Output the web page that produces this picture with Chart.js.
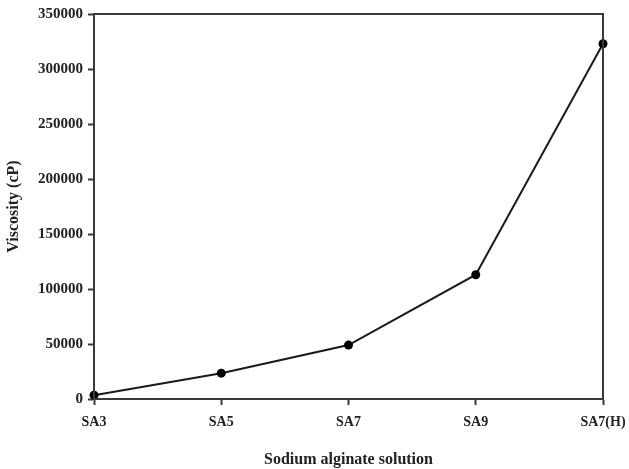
<!DOCTYPE html>
<html>
<head>
<meta charset="utf-8">
<style>
    html, body { margin: 0; padding: 0; background: #fff; }
    .chart-container { position: absolute; left: 0; top: 0; width: 629px; height: 469px; }
</style>
</head>
<body>
<div class="chart-container">
    <canvas id="myChart" width="629" height="469"></canvas>
</div>

<script src="https://cdn.jsdelivr.net/npm/chart.js"></script>
<script>
    const categories = ['SA3', 'SA5', 'SA7', 'SA9', 'SA7(H)'];
    const viscosity = [3500, 23500, 49000, 113000, 323000];
    const yTicks = [0, 50000, 100000, 150000, 200000, 250000, 300000, 350000];

    const axisColor = '#3a3a3a';
    const serif = "'Liberation Serif', 'Times New Roman', serif";

    // box around the plot area (top and right edges)
    const frame = {
        id: 'frame',
        afterDatasetsDraw(chart) {
            const {ctx, chartArea: a} = chart;
            ctx.save();
            ctx.strokeStyle = axisColor;
            ctx.lineWidth = 2;
            ctx.strokeRect(a.left, a.top, a.right - a.left, a.bottom - a.top);
            ctx.restore();
        }
    };

    const ctx = document.getElementById('myChart');

    new Chart(ctx, {
        type: 'line',
        data: {
            labels: categories,
            datasets: [{
                label: 'Viscosity',
                data: viscosity,
                borderColor: '#1a1a1a',
                backgroundColor: '#000',
                borderWidth: 2,
                pointRadius: 4.5,
                pointBackgroundColor: '#000',
                pointBorderWidth: 0,
                tension: 0,
                clip: false
            }]
        },
        options: {
            responsive: false,
            animation: false,
            layout: { padding: { left: 0, right: 26, top: 11, bottom: 0 } },
            plugins: {
                legend: { display: false },
                tooltip: { enabled: false }
            },
            scales: {
                x: {
                    offset: false,
                    grid: { drawOnChartArea: false, drawTicks: true, tickLength: 6, tickColor: axisColor, tickWidth: 2 },
                    border: { color: axisColor, width: 2 },
                    ticks: { color: '#222', padding: 9, maxRotation: 0, font: { family: serif, size: 14, weight: 'bold' } },
                    title: {
                        display: true,
                        text: 'Sodium alginate solution',
                        color: '#222',
                        padding: { top: 10, bottom: 0 },
                        font: { family: serif, size: 16, weight: 'bold' }
                    },
                    afterFit: s => {
                        s.height = 70;
                        s.paddingLeft = 0;
                        s.paddingRight = 0;
                    }
                },
                y: {
                    min: 0,
                    max: 350000,
                    afterBuildTicks: s => { s.ticks = yTicks.map(v => ({ value: v })); },
                    grid: { drawOnChartArea: false, drawTicks: true, tickLength: 6, tickColor: axisColor, tickWidth: 2 },
                    border: { color: axisColor, width: 2 },
                    ticks: {
                        color: '#222',
                        padding: 5,
                        font: { family: serif, size: 15, weight: 'bold' },
                        callback: v => String(v)
                    },
                    title: {
                        display: true,
                        text: 'Viscosity (cP)',
                        color: '#222',
                        padding: { top: 4, bottom: 0 },
                        font: { family: serif, size: 16, weight: 'bold' }
                    },
                    afterFit: s => { s.width = 94; }
                }
            }
        },
        plugins: [frame]
    });
</script>
</body>
</html>
